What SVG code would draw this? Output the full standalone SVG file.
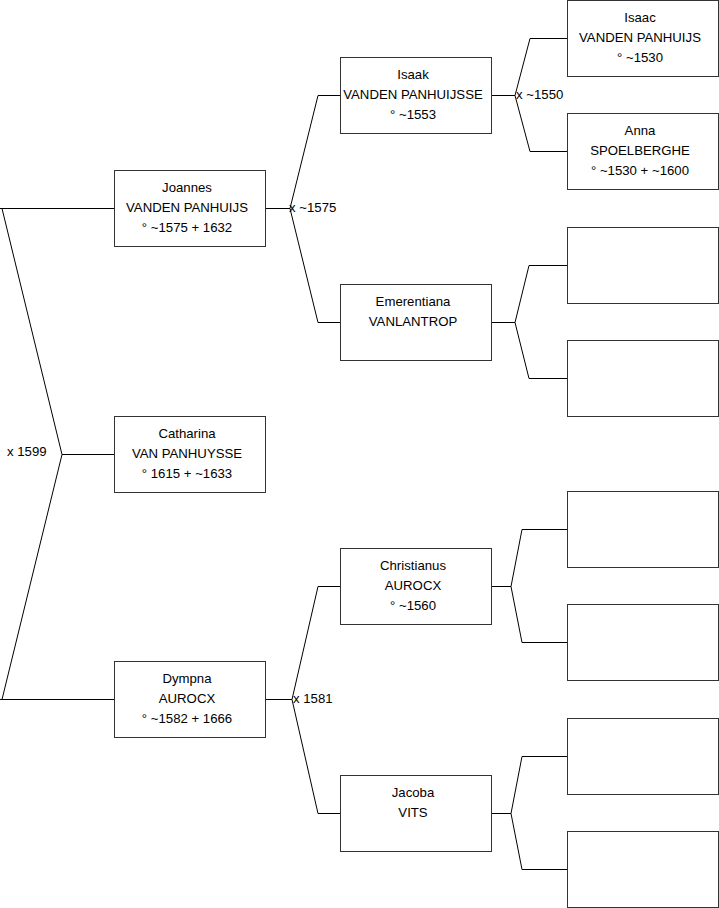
<svg xmlns="http://www.w3.org/2000/svg" width="719" height="908" viewBox="0 0 719 908">
<style>
.box{fill:#fff;stroke:#333;stroke-width:1}
.t{font-family:"Liberation Sans",Arial,sans-serif;font-size:13.2px;fill:#000;text-anchor:middle}
.l{font-family:"Liberation Sans",Arial,sans-serif;font-size:13.2px;fill:#000}
#connectors path{fill:none;stroke:#000;stroke-width:1}
</style>
<rect width="719" height="908" fill="#fff"/>
<g id="connectors">
<path d="M0,208.5H114 M2,208.5L62,454.5L2,699.5 M0,699.5H114 M62,454.5H114"/>
<path d="M265,208.5H290 M340,95.5H318L290,208.5L318,322.5H340"/>
<path d="M492,95.5H515 M567,38.5H530L515,95.5L530,151.5H567"/>
<path d="M492,322.5H515 M567,265.5H529L515,322.5L529,378.5H567"/>
<path d="M265,699.5H292 M340,586.5H318L292,699.5L318,813.5H340"/>
<path d="M492,586.5H511 M567,529.5H522L511,586.5L522,642.5H567"/>
<path d="M492,813.5H511 M567,756.5H522L511,813.5L522,869.5H567"/>
<text class="l" x="7" y="456">x 1599</text>
<text class="l" x="289" y="212">x ~1575</text>
<text class="l" x="516" y="99">x ~1550</text>
<text class="l" x="293" y="703">x 1581</text>
</g>
<g id="joannes"><rect class="box" x="114.5" y="170.5" width="151" height="76"/>
<text class="t" x="187" y="192">Joannes</text><text class="t" x="187" y="212">VANDEN PANHUIJS</text><text class="t" x="187" y="232">° ~1575 + 1632</text></g>
<g id="catharina"><rect class="box" x="114.5" y="416.5" width="151" height="76"/>
<text class="t" x="187" y="438">Catharina</text><text class="t" x="187" y="458">VAN PANHUYSSE</text><text class="t" x="187" y="478">° 1615 + ~1633</text></g>
<g id="dympna"><rect class="box" x="114.5" y="661.5" width="151" height="76"/>
<text class="t" x="187" y="683">Dympna</text><text class="t" x="187" y="703">AUROCX</text><text class="t" x="187" y="723">° ~1582 + 1666</text></g>
<g id="isaak"><rect class="box" x="340.5" y="57.5" width="151" height="76"/>
<text class="t" x="413" y="79">Isaak</text><text class="t" x="413" y="99">VANDEN PANHUIJSSE</text><text class="t" x="413" y="119">° ~1553</text></g>
<g id="emerentiana"><rect class="box" x="340.5" y="284.5" width="151" height="76"/>
<text class="t" x="413" y="306">Emerentiana</text><text class="t" x="413" y="326">VANLANTROP</text></g>
<g id="christianus"><rect class="box" x="340.5" y="548.5" width="151" height="76"/>
<text class="t" x="413" y="570">Christianus</text><text class="t" x="413" y="590">AUROCX</text><text class="t" x="413" y="610">° ~1560</text></g>
<g id="jacoba"><rect class="box" x="340.5" y="775.5" width="151" height="76"/>
<text class="t" x="413" y="797">Jacoba</text><text class="t" x="413" y="817">VITS</text></g>
<g id="isaac"><rect class="box" x="567.5" y="0.5" width="151" height="76"/>
<text class="t" x="640" y="22">Isaac</text><text class="t" x="640" y="42">VANDEN PANHUIJS</text><text class="t" x="640" y="62">° ~1530</text></g>
<g id="anna"><rect class="box" x="567.5" y="113.5" width="151" height="76"/>
<text class="t" x="640" y="135">Anna</text><text class="t" x="640" y="155">SPOELBERGHE</text><text class="t" x="640" y="175">° ~1530 + ~1600</text></g>
<g id="empty1"><rect class="box" x="567.5" y="227.5" width="151" height="76"/></g>
<g id="empty2"><rect class="box" x="567.5" y="340.5" width="151" height="76"/></g>
<g id="empty3"><rect class="box" x="567.5" y="491.5" width="151" height="76"/></g>
<g id="empty4"><rect class="box" x="567.5" y="604.5" width="151" height="76"/></g>
<g id="empty5"><rect class="box" x="567.5" y="718.5" width="151" height="76"/></g>
<g id="empty6"><rect class="box" x="567.5" y="831.5" width="151" height="76"/></g>
</svg>
